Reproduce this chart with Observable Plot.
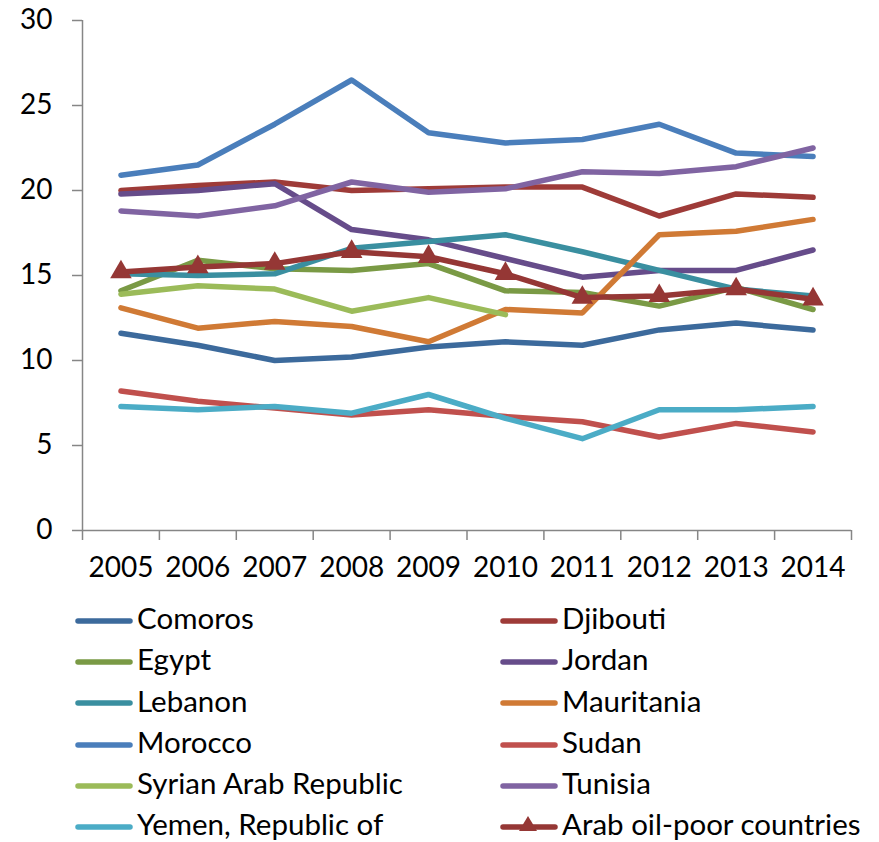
<!DOCTYPE html>
<html>
<head>
<meta charset="utf-8">
<script src="https://cdn.jsdelivr.net/npm/d3@7"></script>
<script src="https://cdn.jsdelivr.net/npm/@observablehq/plot@0.6"></script>
<style>
  html, body { margin: 0; background: #fff; font-family: Lato, "Open Sans", sans-serif; }
  #chart svg { display: block; }
  #legend { position: relative; width: 879px; height: 242px; }
  .item { position: absolute; display: flex; align-items: center; height: 40px; font-size: 29.5px; line-height: 1; color: #000; white-space: nowrap; }
  .item svg { margin-right: 4px; flex: none; }
</style>
</head>
<body>
<div id="chart"></div>
<div id="legend"></div>
<script>
const years = [2005, 2006, 2007, 2008, 2009, 2010, 2011, 2012, 2013, 2014];
const yTicks = [0, 5, 10, 15, 20, 25, 30];

const names = ["Comoros", "Djibouti", "Egypt", "Jordan", "Lebanon", "Mauritania",
  "Morocco", "Sudan", "Syrian Arab Republic", "Tunisia", "Yemen, Republic of", "Arab oil-poor countries"];
const colors = ["#3C6A9C", "#9E3B38", "#7A9A45", "#664C8A", "#3A8FA0", "#D07A35",
  "#4A7EBB", "#C0504D", "#9BBB59", "#8064A2", "#4BACC6", "#953735"];

const comoros    = [11.6, 10.9, 10.0, 10.2, 10.8, 11.1, 10.9, 11.8, 12.2, 11.8];
const djibouti   = [20.0, 20.3, 20.5, 20.0, 20.1, 20.2, 20.2, 18.5, 19.8, 19.6];
const egypt      = [14.1, 15.9, 15.4, 15.3, 15.7, 14.1, 14.0, 13.2, 14.3, 13.0];
const jordan     = [19.8, 20.0, 20.4, 17.7, 17.1, 16.0, 14.9, 15.3, 15.3, 16.5];
const lebanon    = [15.1, 15.0, 15.1, 16.6, 17.0, 17.4, 16.4, 15.3, 14.2, 13.8];
const mauritania = [13.1, 11.9, 12.3, 12.0, 11.1, 13.0, 12.8, 17.4, 17.6, 18.3];
const morocco    = [20.9, 21.5, 23.9, 26.5, 23.4, 22.8, 23.0, 23.9, 22.2, 22.0];
const sudan      = [8.2, 7.6, 7.2, 6.8, 7.1, 6.7, 6.4, 5.5, 6.3, 5.8];
const syria      = [13.9, 14.4, 14.2, 12.9, 13.7, 12.7, null, null, null, null];
const tunisia    = [18.8, 18.5, 19.1, 20.5, 19.9, 20.1, 21.1, 21.0, 21.4, 22.5];
const yemen      = [7.3, 7.1, 7.3, 6.9, 8.0, 6.6, 5.4, 7.1, 7.1, 7.3];
const oilPoor    = [15.2, 15.5, 15.7, 16.4, 16.1, 15.1, 13.7, 13.8, 14.2, 13.6];

const valueLists = [comoros, djibouti, egypt, jordan, lebanon, mauritania,
  morocco, sudan, syria, tunisia, yemen, oilPoor];

const data = names.flatMap((name, k) =>
  years.map((year, i) => ({series: name, year, value: valueLists[k][i]}))
    .filter(d => d.value != null));
const avgName = names[names.length - 1];
const avgData = data.filter(d => d.series === avgName);

const edges = [...years.map(y => y - 0.5), years[years.length - 1] + 0.5];
const axisGray = "#868686";

const chart = Plot.plot({
  width: 879,
  height: 600,
  marginLeft: 82,
  marginRight: 28,
  marginTop: 20,
  marginBottom: 70,
  style: {fontFamily: "Lato, 'Open Sans', sans-serif", fontSize: "28px", color: "#000", background: "#fff", overflow: "visible"},
  x: {domain: [edges[0], edges[edges.length - 1]]},
  y: {domain: [0, 30]},
  color: {domain: names, range: colors},
  marks: [
    Plot.axisY(yTicks, {tickSize: 10, tickPadding: 20, stroke: axisGray, strokeWidth: 1.5, fill: "#000", label: null, tickFormat: d => String(d)}),
    Plot.axisX(edges, {tickSize: 10, stroke: axisGray, strokeWidth: 1.5, fill: "none", label: null}),
    Plot.axisX(years, {tickSize: 0, tickPadding: 27, fill: "#000", label: null, tickFormat: d => String(d)}),
    Plot.ruleY([0], {stroke: axisGray, strokeWidth: 1.5}),
    Plot.ruleX([edges[0]], {stroke: axisGray, strokeWidth: 1.5}),
    Plot.line(data, {x: "year", y: "value", z: "series", stroke: "series", strokeWidth: 5.5, strokeLinecap: "round", strokeLinejoin: "round"}),
    Plot.dot(avgData, {x: "year", y: "value", symbol: "triangle", r: 8, fill: colors[colors.length - 1], stroke: "none"})
  ]
});
document.getElementById("chart").appendChild(chart);

// legend (two columns, row-major)
const legend = document.getElementById("legend");
names.forEach((name, k) => {
  const col = k % 2, row = Math.floor(k / 2);
  const item = document.createElement("div");
  item.className = "item";
  item.style.left = (col === 0 ? 75 : 500) + "px";
  item.style.top = (row * 41.2 - 2) + "px";
  const c = colors[k];
  const tri = k === names.length - 1
    ? `<path d="M28,4 L37,19 L19,19 Z" fill="${c}"/>` : "";
  item.innerHTML = `<svg width="58" height="24" viewBox="0 0 58 24"><line x1="3" y1="15" x2="55" y2="15" stroke="${c}" stroke-width="5.5" stroke-linecap="round"/>${tri}</svg><span>${name}</span>`;
  legend.appendChild(item);
});
</script>
</body>
</html>
